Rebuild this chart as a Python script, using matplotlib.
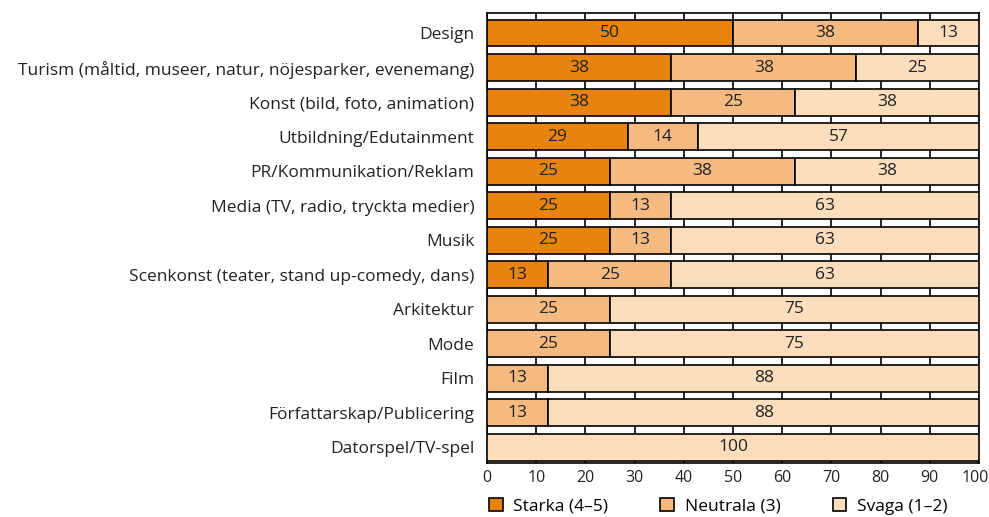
import numpy as np
import matplotlib
matplotlib.use("Agg")
import matplotlib.pyplot as plt
import matplotlib.transforms as mtransforms

plt.rcParams['font.family'] = ['Open Sans', 'DejaVu Sans']

# kategorier (uppifrån och ned)
kategorier = [
    "Design",
    "Turism (måltid, museer, natur, nöjesparker, evenemang)",
    "Konst (bild, foto, animation)",
    "Utbildning/Edutainment",
    "PR/Kommunikation/Reklam",
    "Media (TV, radio, tryckta medier)",
    "Musik",
    "Scenkonst (teater, stand up-comedy, dans)",
    "Arkitektur",
    "Mode",
    "Film",
    "Författarskap/Publicering",
    "Datorspel/TV-spel",
]

# andelar i procent
starka = [50, 37.5, 37.5, 28.6, 25, 25, 25, 12.5, 0, 0, 0, 0, 0]
neutrala = [37.5, 37.5, 25, 14.3, 37.5, 12.5, 12.5, 25, 25, 25, 12.5, 12.5, 0]
svaga = [12.5, 25, 37.5, 57.1, 37.5, 62.5, 62.5, 62.5, 75, 75, 87.5, 87.5, 100]

serier = ["Starka (4–5)", "Neutrala (3)", "Svaga (1–2)"]
farger = ["#E8840E", "#F5BA80", "#FCDDBC"]

fs = 12.5

fig = plt.figure(figsize=(9.89, 5.17), dpi=100)
ax = fig.add_axes([0.4924, 0.1044, 0.4975, 0.8705])

y = np.arange(len(kategorier))
vanster = np.zeros(len(kategorier))
for varden, namn, farg in zip([starka, neutrala, svaga], serier, farger):
    varden = np.array(varden, dtype=float)
    ax.barh(y, varden, left=vanster, height=0.78, color=farg,
            edgecolor="black", linewidth=1.2, label=namn, zorder=3)
    for yi, v, l in zip(y, varden, vanster):
        if v > 0:
            ax.text(l + v / 2, yi, str(int(v + 0.5)), ha="center", va="center",
                    fontsize=fs, color="#222222", zorder=4)
    vanster += varden

ax.set_xlim(0, 100)
ax.set_ylim(12.45, -0.58)
ax.set_xticks(range(0, 101, 10))
ax.set_yticks(y)
ax.set_yticklabels(kategorier)
ax.tick_params(axis="both", length=0, labelsize=fs, colors="#222222")
ax.tick_params(axis="x", labelsize=11.5)
ax.tick_params(axis="y", pad=9)
ax.tick_params(axis="x", pad=5)
ax.xaxis.grid(True, color="black", linewidth=1.2, zorder=0)
for s in ax.spines.values():
    s.set_linewidth(1.2)

# sista etiketten (100) lite åt vänster så den inte klipps
sista = ax.get_xticklabels()[-1]
sista.set_transform(sista.get_transform() + mtransforms.ScaledTranslation(-4 / 100, 0, fig.dpi_scale_trans))

ax.legend(loc="upper left", bbox_to_anchor=(-0.01, -0.062), ncol=3, frameon=False,
          fontsize=fs, handlelength=0.8, handleheight=0.8, columnspacing=3.0,
          handletextpad=0.6, borderaxespad=0)

fig.savefig("out.png", dpi=100)
